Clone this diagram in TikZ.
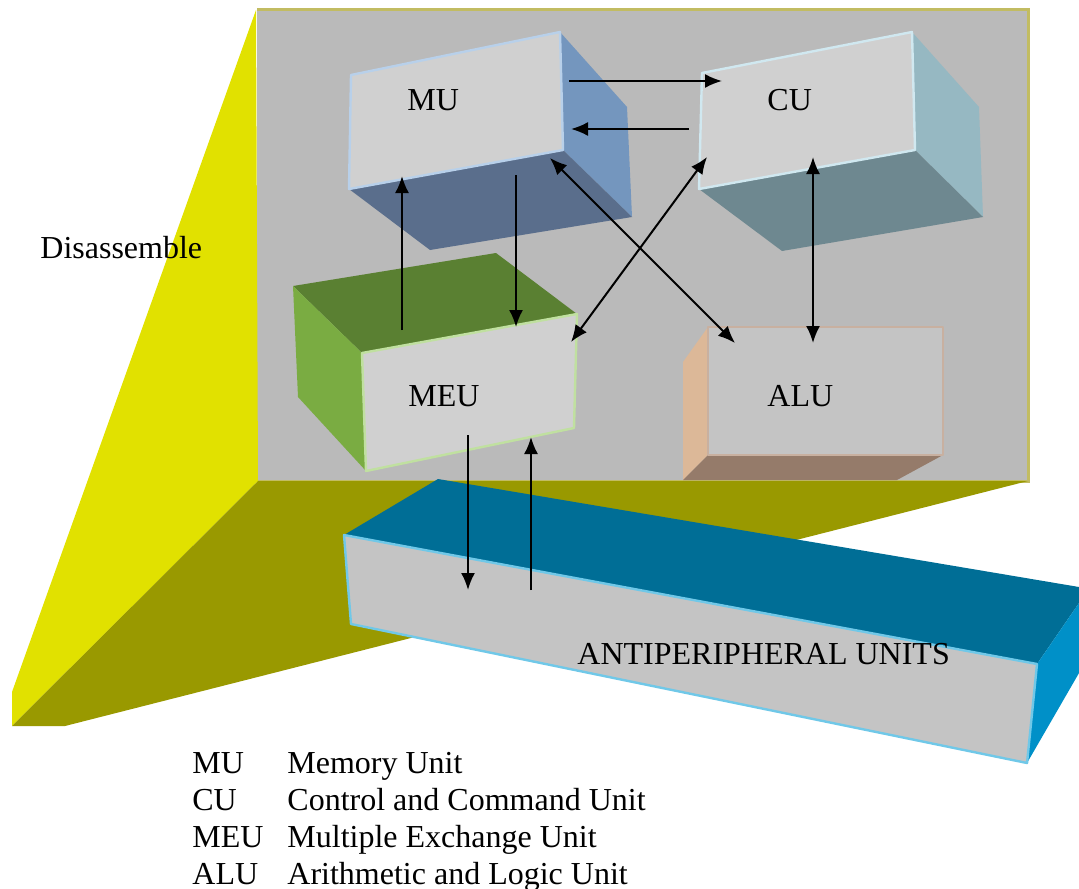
\documentclass[tikz,border=0pt]{standalone}
\usepackage{fontspec}
\setmainfont{Liberation Serif}
\usepackage{tikz}
\usetikzlibrary{arrows.meta}
\definecolor{framegray}{HTML}{BABABA}
\definecolor{frameedge}{HTML}{C2BC62}
\definecolor{sideyellow}{HTML}{E1E100}
\definecolor{sideolive}{HTML}{999900}
\definecolor{facegray}{HTML}{D0D0D0}
\definecolor{facegrayb}{HTML}{C4C4C4}
\definecolor{muside}{HTML}{7496BE}
\definecolor{mubottom}{HTML}{5A6E8C}
\definecolor{muedge}{HTML}{B8D0EA}
\definecolor{cuside}{HTML}{96B8C2}
\definecolor{cubottom}{HTML}{6E8890}
\definecolor{cuedge}{HTML}{D0E8F0}
\definecolor{meutop}{HTML}{5A8032}
\definecolor{meuside}{HTML}{7AAC42}
\definecolor{meuedge}{HTML}{C0E0A0}
\definecolor{aluside}{HTML}{DCB898}
\definecolor{alubottom}{HTML}{957B6A}
\definecolor{aluedge}{HTML}{C8B0A0}
\definecolor{aputop}{HTML}{006E96}
\definecolor{apuside}{HTML}{0090C8}
\definecolor{apuedge}{HTML}{70C8E8}

\begin{document}
\begin{tikzpicture}[
		x=0.5pt, y=-0.5pt,
		font=\fontsize{16}{19}\selectfont,
		unitlabel/.style={anchor=base west, inner sep=0pt},
		front/.style={fill=#1, line width=1.2pt, line join=round},
		link/.style={-{Latex[length=8.5pt,width=7pt]}, line width=1pt},
		twoway/.style={{Latex[length=8.5pt,width=7pt]}-{Latex[length=8.5pt,width=7pt]}, line width=1pt}
	]
	\useasboundingbox (0,0) rectangle (1079,888);

	\fill[framegray] (257,10) rectangle (1028,481);
	\draw[frameedge, line width=1.5pt] (257,10) -- (1028,10) -- (1028,481) -- (257,481);
	\fill[sideyellow] (256,10) -- (12,692) -- (12,726) -- (258,481) -- cycle;
	\fill[sideolive] (258,481) -- (1028,481) -- (65,726) -- (12,726) -- cycle;

	\fill[muside] (560,32) -- (627,107) -- (632,217) -- (563,150) -- cycle;
	\fill[mubottom] (349,189) -- (563,150) -- (632,217) -- (430,250) -- cycle;
	\draw[front=facegray, draw=muedge] (351,75) -- (560,32) -- (563,150) -- (349,189) -- cycle;
	\node[unitlabel] (mu) at (407,111) {MU};

	\fill[cuside] (912,32) -- (979,107) -- (983,217) -- (915,150) -- cycle;
	\fill[cubottom] (699,189) -- (915,150) -- (983,217) -- (782,251) -- cycle;
	\draw[front=facegray, draw=cuedge] (702,73) -- (912,32) -- (915,150) -- (699,189) -- cycle;
	\node[unitlabel] (cu) at (767,111) {CU};

	\fill[meutop] (293,286) -- (496,253) -- (577,314) -- (362,353) -- cycle;
	\fill[meuside] (293,286) -- (362,353) -- (366,471) -- (298,397) -- cycle;
	\draw[front=facegray, draw=meuedge] (362,353) -- (577,314) -- (574,428) -- (366,471) -- cycle;
	\node[unitlabel] (meu) at (408,406) {MEU};

	\fill[aluside] (683,362) -- (708,327) -- (708,455) -- (683,480) -- cycle;
	\fill[alubottom] (708,455) -- (943,455) -- (897,480) -- (683,480) -- cycle;
	\draw[front=facegrayb, draw=aluedge] (708,327) -- (943,327) -- (943,455) -- (708,455) -- cycle;
	\node[unitlabel] (alu) at (767,406) {ALU};

	\fill[aputop] (344,535) -- (438,479) -- (1079,587) -- (1079,603) -- (1037,664) -- cycle;
	\fill[apuside] (1037,664) -- (1079,603) -- (1079,673) -- (1027,763) -- cycle;
	\draw[front=facegrayb, draw=apuedge] (344,535) -- (1037,664) -- (1027,763) -- (351,624) -- cycle;
	\node[unitlabel] (apu) at (577,664) {ANTIPERIPHERAL UNITS};

	\node[unitlabel] (dis) at (40,258) {Disassemble};

	\coordinate (mu-a) at (569,81);   \coordinate (cu-a) at (722,81);
	\coordinate (cu-b) at (689,129);  \coordinate (mu-b) at (571,129);
	\coordinate (meu-c) at (402,330); \coordinate (mu-c) at (402,176);
	\coordinate (mu-d) at (516,175);  \coordinate (meu-d) at (516,327);
	\coordinate (mu-e) at (550,158);  \coordinate (alu-e) at (735,343);
	\coordinate (cu-f) at (707,157);  \coordinate (meu-f) at (571,342);
	\coordinate (cu-g) at (813,157);  \coordinate (alu-g) at (813,343);
	\coordinate (meu-h) at (468,435); \coordinate (apu-h) at (468,590);
	\coordinate (apu-i) at (531,590); \coordinate (meu-i) at (531,437);

	\draw[link] (mu-a) -- (cu-a);
	\draw[link] (cu-b) -- (mu-b);
	\draw[link] (meu-c) -- (mu-c);
	\draw[link] (mu-d) -- (meu-d);
	\draw[twoway] (mu-e) -- (alu-e);
	\draw[twoway] (cu-f) -- (meu-f);
	\draw[twoway] (cu-g) -- (alu-g);
	\draw[link] (meu-h) -- (apu-h);
	\draw[link] (apu-i) -- (meu-i);

	\node[unitlabel] (key1) at (192,773) {MU};
	\node[unitlabel] (key2) at (192,810) {CU};
	\node[unitlabel] (key3) at (192,847) {MEU};
	\node[unitlabel] (key4) at (192,884) {ALU};
	\node[unitlabel] (txt1) at (287,773) {Memory Unit};
	\node[unitlabel] (txt2) at (287,810) {Control and Command Unit};
	\node[unitlabel] (txt3) at (287,847) {Multiple Exchange Unit};
	\node[unitlabel] (txt4) at (287,884) {Arithmetic and Logic Unit};

\end{tikzpicture}
\end{document}
